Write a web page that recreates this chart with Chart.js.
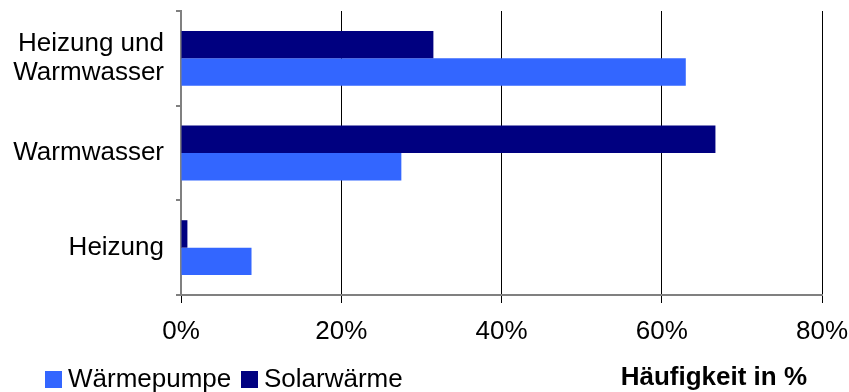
<!DOCTYPE html>
<html lang="de">
<head>
  <meta charset="UTF-8">
  <title>Häufigkeit Wärmepumpe / Solarwärme</title>
  <script src="https://cdn.jsdelivr.net/npm/chart.js"></script>
  <style>
    html, body {
      margin: 0;
      padding: 0;
      background: #ffffff;
    }
    .grafico {
      width: 849px;
      height: 392px;
    }
  </style>
</head>
<body>

  <div class="grafico">
    <canvas id="grafico"></canvas>
  </div>

  <script>
    // Anwendungsbereiche (von oben nach unten)
    const bereiche = [['Heizung und', 'Warmwasser'], 'Warmwasser', 'Heizung'];
    const solarwaerme = [31.5, 66.7, 0.8];
    const waermepumpe = [63.0, 27.5, 8.8];
    const achsenWerte = [0, 20, 40, 60, 80];

    const schrift = 'Arial, "Liberation Sans", sans-serif';

    // Legende unten links und Achsentitel unten rechts
    const legendeUndTitel = {
      id: 'legendeUndTitel',
      afterDraw(chart) {
        const ctx = chart.ctx;
        const yMitte = 379.5;
        const startX = [45, 241];
        const eintraege = chart.data.datasets.slice().reverse();
        ctx.save();
        ctx.font = '26px ' + schrift;
        ctx.textBaseline = 'middle';
        ctx.textAlign = 'left';
        eintraege.forEach((ds, i) => {
          const x = startX[i];
          ctx.fillStyle = ds.backgroundColor;
          ctx.fillRect(x, yMitte - 8.5, 17, 17);
          ctx.fillStyle = '#000';
          ctx.fillText(ds.label, x + 23, yMitte);
        });
        ctx.font = 'bold 26px ' + schrift;
        ctx.textAlign = 'right';
        ctx.fillText('Häufigkeit in %', 807, yMitte - 2);
        ctx.restore();
      }
    };

    const ctx = document.getElementById('grafico').getContext('2d');
    const chart = new Chart(ctx, {
      type: 'bar',
      data: {
        labels: bereiche,
        datasets: [
          {
            label: 'Solarwärme',
            data: solarwaerme,
            backgroundColor: '#000080',
            borderWidth: 0
          },
          {
            label: 'Wärmepumpe',
            data: waermepumpe,
            backgroundColor: '#3366FF',
            borderWidth: 0
          }
        ]
      },
      options: {
        indexAxis: 'y',
        responsive: true,
        maintainAspectRatio: false,
        animation: false,
        categoryPercentage: 0.58,
        barPercentage: 1.0,
        layout: {
          padding: { top: 11, right: 27, left: 0, bottom: 0 }
        },
        plugins: {
          legend: { display: false },
          tooltip: { enabled: false }
        },
        scales: {
          x: {
            min: 0,
            max: 80,
            afterBuildTicks(scale) {
              scale.ticks = achsenWerte.map(v => ({ value: v }));
            },
            afterFit(scale) {
              scale.height = 97;
              scale.paddingLeft = 0;
              scale.paddingRight = 0;
            },
            ticks: {
              color: '#000',
              padding: 16,
              font: { family: schrift, size: 26, lineHeight: 1.0 },
              callback: v => v + '%'
            },
            grid: {
              color: '#000',
              lineWidth: 1,
              tickLength: 8,
              tickColor: '#000'
            },
            border: {
              color: '#808080',
              width: 2
            }
          },
          y: {
            afterFit(scale) {
              scale.width = 181;
              scale.paddingTop = 0;
              scale.paddingBottom = 0;
            },
            ticks: {
              color: '#000',
              padding: 12,
              font: { family: schrift, size: 26, lineHeight: 1.12 }
            },
            grid: {
              drawOnChartArea: false,
              offset: true,
              tickLength: 5,
              tickColor: '#808080',
              lineWidth: 2
            },
            border: {
              color: '#808080',
              width: 2
            }
          }
        }
      },
      plugins: [legendeUndTitel]
    });
  </script>

</body>
</html>
